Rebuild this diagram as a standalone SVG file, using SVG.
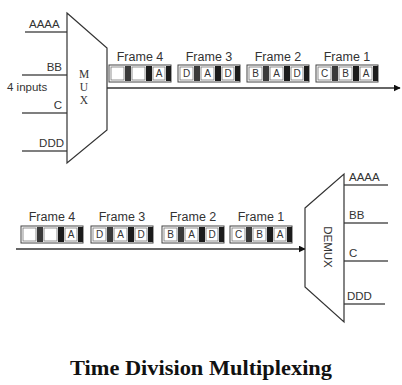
<svg xmlns="http://www.w3.org/2000/svg" width="402" height="385" viewBox="0 0 402 385">
<defs>
<style>
.lbl{font-family:"Liberation Sans",Arial,sans-serif;font-size:11.5px;fill:#333}
.fl{font-family:"Liberation Sans",Arial,sans-serif;font-size:12.5px;fill:#333;text-anchor:middle}
.sl{font-family:"Liberation Sans",Arial,sans-serif;font-size:10px;fill:#333;text-anchor:middle}
.ln{stroke:#555;stroke-width:1.5;fill:none}
.box{fill:#fff;stroke:#444;stroke-width:1}
.cell{fill:#fff;stroke:#777;stroke-width:0.8}
.bar{fill:#1c1c1c}
.gbar{fill:#3a3a3a}
.mux{fill:#fff;stroke:#333;stroke-width:1.2}
</style>
<marker id="ah" viewBox="0 0 10 10" refX="9" refY="5" markerWidth="7" markerHeight="7" orient="auto" markerUnits="userSpaceOnUse">
<path d="M0,0 L10,5 L0,10 Z" fill="#111"/>
</marker>
<g id="frameShape">
<rect class="box" x="0" y="0" width="62" height="17"/>
<rect class="cell" x="2" y="2" width="13" height="13"/>
<rect class="gbar" x="16" y="1" width="6" height="15"/>
<rect class="cell" x="23" y="2" width="13" height="13"/>
<rect class="bar" x="37" y="1" width="6" height="15"/>
<rect class="cell" x="44" y="2" width="12" height="13"/>
<rect class="bar" x="57" y="1" width="5" height="15"/>
</g>
</defs>
<rect width="402" height="385" fill="#fff"/>

<g id="connectors">
<line class="ln" x1="25" y1="32" x2="67" y2="32"/>
<line class="ln" x1="22" y1="75" x2="67" y2="75"/>
<line class="ln" x1="22" y1="113" x2="67" y2="113"/>
<line class="ln" x1="22" y1="151" x2="67" y2="151"/>
<line x1="107" y1="88" x2="400" y2="88" stroke="#333" stroke-width="1.3" marker-end="url(#ah)"/>
<line x1="16" y1="249" x2="305" y2="249" stroke="#333" stroke-width="1.3" marker-end="url(#ah)"/>
<line class="ln" x1="344" y1="185" x2="388" y2="185"/>
<line class="ln" x1="344" y1="223" x2="388" y2="223"/>
<line class="ln" x1="344" y1="261" x2="388" y2="261"/>
<line class="ln" x1="344" y1="304" x2="385" y2="304"/>
</g>

<g id="inputs">
<text class="lbl" x="29" y="28">AAAA</text>
<text class="lbl" x="62" y="71" text-anchor="end">BB</text>
<text class="lbl" x="7" y="91">4 inputs</text>
<text class="lbl" x="62" y="109" text-anchor="end">C</text>
<text class="lbl" x="64" y="147" text-anchor="end">DDD</text>
</g>

<g id="mux">
<polygon class="mux" points="67,13 107,48 107,130 67,163"/>
<text x="84" y="78" font-family="Liberation Serif,serif" font-size="11.5" fill="#333" text-anchor="middle">M</text>
<text x="84" y="91" font-family="Liberation Serif,serif" font-size="11.5" fill="#333" text-anchor="middle">U</text>
<text x="84" y="104" font-family="Liberation Serif,serif" font-size="11.5" fill="#333" text-anchor="middle">X</text>
</g>

<g id="top-frames">
<g id="tf4"><text class="fl" x="140" y="61">Frame 4</text><use href="#frameShape" x="109" y="65"/><text class="sl" x="159" y="77">A</text></g>
<g id="tf3"><text class="fl" x="209" y="61">Frame 3</text><use href="#frameShape" x="178" y="65"/><text class="sl" x="186.5" y="77">D</text><text class="sl" x="207.5" y="77">A</text><text class="sl" x="228" y="77">D</text></g>
<g id="tf2"><text class="fl" x="278" y="61">Frame 2</text><use href="#frameShape" x="247" y="65"/><text class="sl" x="255.5" y="77">B</text><text class="sl" x="276.5" y="77">A</text><text class="sl" x="297" y="77">D</text></g>
<g id="tf1"><text class="fl" x="347" y="61">Frame 1</text><use href="#frameShape" x="316" y="65"/><text class="sl" x="324.5" y="77">C</text><text class="sl" x="345.5" y="77">B</text><text class="sl" x="366" y="77">A</text></g>
</g>

<g id="bottom-frames">
<g id="bf4"><text class="fl" x="52" y="221">Frame 4</text><use href="#frameShape" x="21" y="226"/><text class="sl" x="71" y="238">A</text></g>
<g id="bf3"><text class="fl" x="122" y="221">Frame 3</text><use href="#frameShape" x="91" y="226"/><text class="sl" x="99.5" y="238">D</text><text class="sl" x="120.5" y="238">A</text><text class="sl" x="141" y="238">D</text></g>
<g id="bf2"><text class="fl" x="193" y="221">Frame 2</text><use href="#frameShape" x="162" y="226"/><text class="sl" x="170.5" y="238">B</text><text class="sl" x="191.5" y="238">A</text><text class="sl" x="212" y="238">D</text></g>
<g id="bf1"><text class="fl" x="261" y="221">Frame 1</text><use href="#frameShape" x="230" y="226"/><text class="sl" x="238.5" y="238">C</text><text class="sl" x="259.5" y="238">B</text><text class="sl" x="280" y="238">A</text></g>
</g>

<g id="demux">
<polygon class="mux" points="305,208 344,174 344,322 305,287"/>
<text x="328" y="247" transform="rotate(90 328 247)" font-family="Liberation Sans,Arial,sans-serif" font-size="11.5" fill="#333" text-anchor="middle" dominant-baseline="central">DEMUX</text>
</g>

<g id="outputs">
<text class="lbl" x="349" y="181">AAAA</text>
<text class="lbl" x="349" y="219">BB</text>
<text class="lbl" x="349" y="257">C</text>
<text class="lbl" x="347" y="300">DDD</text>
</g>

<text id="title" x="201" y="375" font-family="Liberation Serif,'Times New Roman',serif" font-weight="bold" font-size="21" fill="#111" text-anchor="middle" textLength="262" lengthAdjust="spacingAndGlyphs">Time Division Multiplexing</text>
</svg>
